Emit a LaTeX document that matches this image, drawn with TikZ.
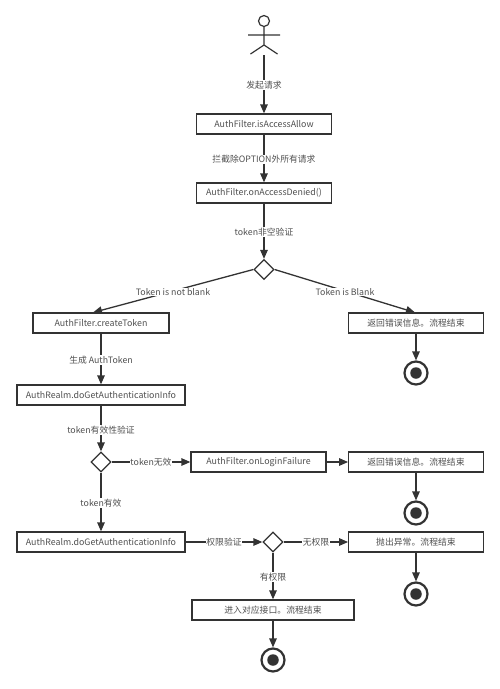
\documentclass[tikz,border=0pt]{standalone}
\usepackage{fontspec}
\setmainfont{Noto Sans CJK SC}
\usetikzlibrary{arrows.meta,shapes.geometric}
\definecolor{ink}{HTML}{333333}
\definecolor{txt}{HTML}{505050}
\tikzset{
  x=1pt,y=-1pt,
  line/.style={draw=ink,line width=1.3pt},
  flow/.style={line,-{Triangle[length=9pt,width=7.5pt]}},
  boxn/.style={draw=ink,line width=1.3pt,fill=white,rectangle,minimum height=20pt,inner sep=0pt,text=txt,font=\fontsize{8.85}{11}\selectfont},
  decide/.style={draw=ink,line width=1.3pt,fill=white,diamond,minimum width=20pt,minimum height=20pt,inner sep=0pt,aspect=1},
  lab/.style={fill=white,text=txt,inner sep=0.6pt,font=\fontsize{8.8}{11}\selectfont},
  endo/.style={circle,draw=ink,line width=2.2pt,fill=white,minimum size=23pt,inner sep=0pt},
  endi/.style={circle,fill=ink,minimum size=11.5pt,inner sep=0pt},
}
\begin{document}
\begin{tikzpicture}
\useasboundingbox[fill=white] (0,0) rectangle (500,689);
% actor
\node[circle,draw=ink,line width=1.2pt,minimum size=11pt,inner sep=0pt] (head) at (264,21) {};
\coordinate (hip) at (264,45);
\coordinate (armL) at (248,35);
\coordinate (armR) at (280,35);
\coordinate (legL) at (250.5,54);
\coordinate (legR) at (277.5,54);
\coordinate (actor) at (264,55);
\draw[line,line width=1.2pt] (head) -- (hip) (armL) -- (armR) (legL) -- (hip) -- (legR);
% boxes
\node[boxn,minimum width=134.5pt] (allow) at (264,124) {AuthFilter.isAccessAllow};
\node[boxn,minimum width=134.5pt] (denied) at (264,193) {AuthFilter.onAccessDenied()};
\node[decide] (d1) at (264,269.5) {};
\node[boxn,minimum width=136pt] (create) at (101,323) {AuthFilter.createToken};
\node[boxn,minimum width=134.5pt] (err1) at (416,323) {返回错误信息。流程结束};
\node[endo] (e1o) at (416,373) {};
\node[endi] (e1i) at (416,373) {};
\node[boxn,minimum width=168pt] (real1) at (101,395) {AuthRealm.doGetAuthenticationInfo};
\node[decide] (d2) at (101,462) {};
\node[boxn,minimum width=135pt] (fail) at (258.5,462) {AuthFilter.onLoginFailure};
\node[boxn,minimum width=134.5pt] (err2) at (416,462) {返回错误信息。流程结束};
\node[endo] (e2o) at (416,513) {};
\node[endi] (e2i) at (416,513) {};
\node[boxn,minimum width=168pt] (real2) at (101,542) {AuthRealm.doGetAuthenticationInfo};
\node[decide] (d3) at (273,542) {};
\node[boxn,minimum width=134.5pt] (exc) at (416,542) {抛出异常。流程结束};
\node[endo] (e3o) at (416,594) {};
\node[endi] (e3i) at (416,594) {};
\node[boxn,minimum width=162pt] (enter) at (273,610) {进入对应接口。流程结束};
\node[endo] (e4o) at (273,660) {};
\node[endi] (e4i) at (273,660) {};
% connectors
\draw[flow] (actor) -- (allow.north) node[lab] at (264,85) {发起请求};
\draw[flow] (allow) -- (denied.north) node[lab] at (264,159.5) {拦截除OPTION外所有请求};
\draw[flow] (denied) -- (d1.north) node[lab] at (264,232) {token非空验证};
\draw[flow] (d1.west) -- (93,312.5) node[lab] at (173,292) {Token is not blank};
\draw[flow] (d1.east) -- (415,312.5) node[lab] at (345,292) {Token is Blank};
\draw[flow] (create) -- (real1.north) node[lab] at (101,360) {生成 AuthToken};
\draw[flow] (err1) -- (e1o.north);
\draw[flow] (real1) -- (d2.north) node[lab] at (101,430) {token有效性验证};
\draw[flow] (d2.east) -- (fail.west) node[lab] at (151,462) {token无效};
\draw[flow] (fail) -- (err2.west);
\draw[flow] (err2) -- (e2o.north);
\draw[flow] (d2.south) -- (real2.north) node[lab] at (101,503) {token有效};
\draw[flow] (real2.east) -- (d3.west) node[lab] at (224,542.5) {权限验证};
\draw[flow] (d3.east) -- (exc.west) node[lab] at (316,542.5) {无权限};
\draw[flow] (exc) -- (e3o.north);
\draw[flow] (d3.south) -- (enter.north) node[lab] at (273,577) {有权限};
\draw[flow] (enter) -- (e4o.north);
\end{tikzpicture}
\end{document}
